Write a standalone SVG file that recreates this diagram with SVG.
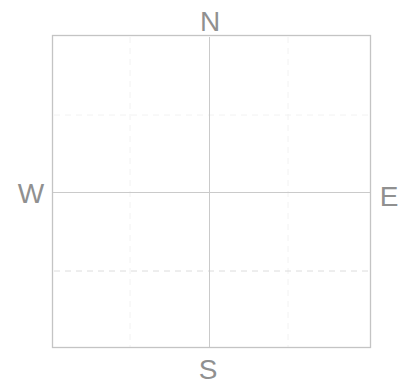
<svg xmlns="http://www.w3.org/2000/svg" width="409" height="385" viewBox="0 0 409 385">
<style>
.frame{fill:none;stroke:#c4c4c4;stroke-width:1.3}
.axis{stroke:#cacaca;stroke-width:1}
.dash{stroke:#dcdcdc;stroke-width:1;stroke-dasharray:6 5}
.faint{stroke:#f2f2f2;stroke-width:1;stroke-dasharray:6 5}
.lbl{font-family:"Liberation Sans",Arial,sans-serif;font-size:28px;fill:#909090;text-anchor:middle}
</style>
<rect width="409" height="385" fill="#ffffff"/>
<g id="grid">
<line class="faint" x1="54" y1="115" x2="369" y2="115"/>
<line class="faint" x1="130" y1="37" x2="130" y2="347"/>
<line class="faint" x1="288" y1="37" x2="288" y2="347"/>
<line class="dash" x1="54" y1="271" x2="369" y2="271"/>
<line class="axis" x1="209.5" y1="37" x2="209.5" y2="347"/>
<line class="axis" x1="53" y1="192.5" x2="370" y2="192.5"/>
<rect class="frame" x="52.5" y="35.5" width="318" height="312"/>
</g>
<g id="labels">
<text class="lbl" x="210" y="31">N</text>
<text class="lbl" x="208" y="379">S</text>
<text class="lbl" x="31" y="203">W</text>
<text class="lbl" x="389" y="206">E</text>
</g>
</svg>
